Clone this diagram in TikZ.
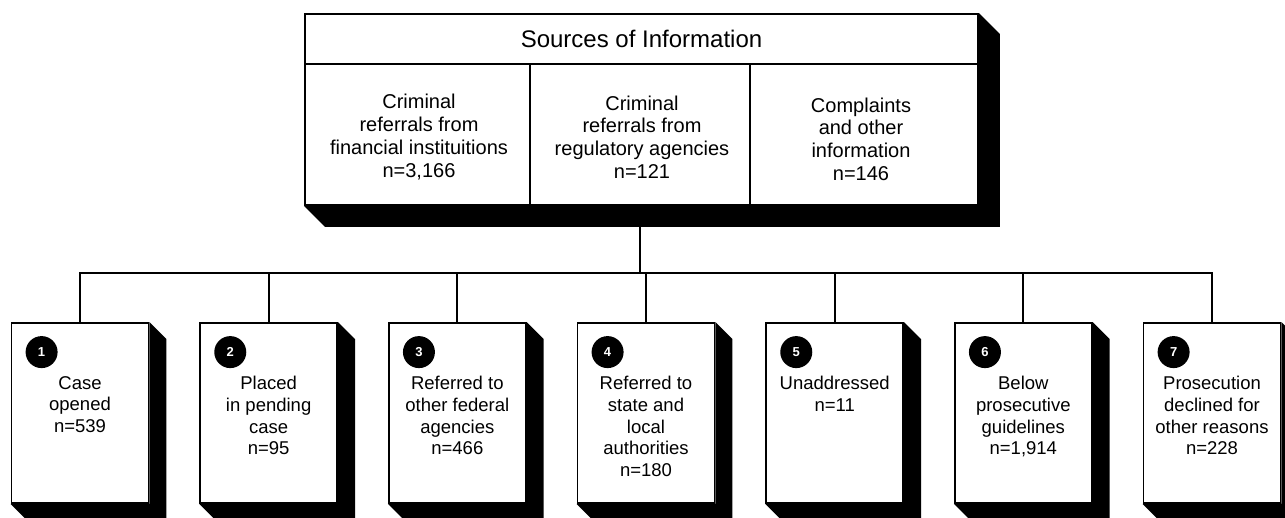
\documentclass[tikz,border=0pt]{standalone}
\usepackage{fontspec}
\setmainfont{Liberation Sans}
\begin{document}
\begin{tikzpicture}[x=1pt,y=-1pt,
  box/.style={draw=black, line width=1.8pt, fill=white, inner sep=0pt},
  lbl/.style={align=center, inner sep=0pt, font=\fontsize{18.5}{21.7}\selectfont},
  toplbl/.style={align=center, inner sep=0pt, font=\fontsize{20}{22.7}\selectfont},
  hdrlbl/.style={inner sep=0pt, font=\fontsize{24}{28}\selectfont},
  num/.style={circle, fill=black, text=white, minimum size=32pt, inner sep=0pt, font=\fontsize{13}{13}\selectfont\bfseries},
  conn/.style={line width=1.8pt},
  shad/.style={fill=black}]
\useasboundingbox (0,0) rectangle (1285,517);

% top box
\node[box, minimum width=673pt, minimum height=50pt] (hdr) at (641.5,39) {};
\node[box, minimum width=225pt, minimum height=141pt] (c1) at (417.5,134.5) {};
\node[box, minimum width=220pt, minimum height=141pt] (c2) at (640,134.5) {};
\node[box, minimum width=228pt, minimum height=141pt] (c3) at (864,134.5) {};
\fill[shad] (hdr.north east) -- ++(21,21) -- ([shift={(21,21)}]c3.south east)
  -- ([shift={(21,21)}]c1.south west) -- (c1.south west) -- (c3.south east) -- cycle;
\node[hdrlbl] (hdrt) at (hdr.center) {Sources of Information};
\node[toplbl] (c1t) at (419,137) {Criminal\\referrals from\\financial instituitions\\n=3,166};
\node[toplbl] (c2t) at (642,137) {Criminal\\referrals from\\regulatory agencies\\n=121};
\node[toplbl] (c3t) at (861,139) {Complaints\\and other\\information\\n=146};

% bottom boxes
\foreach \i/\t in {1/{Case\\opened\\n=539},
                   2/{Placed\\in pending\\case\\n=95},
                   3/{Referred to\\other federal\\agencies\\n=466},
                   4/{Referred to\\state and\\local\\authorities\\n=180},
                   5/{Unaddressed\\n=11},
                   6/{Below\\prosecutive\\guidelines\\n=1,914},
                   7/{Prosecution\\declined for\\other reasons\\n=228}}{
  \pgfmathsetmacro{\cx}{80+(\i-1)*188.667}
  \node[box, minimum width=137pt, minimum height=180pt] (b\i) at (\cx,413) {};
  \fill[shad] (b\i.north east) -- ++(17,17) -- ([shift={(17,17)}]b\i.south east)
    -- ([shift={(17,17)}]b\i.south west) -- (b\i.south west) -- (b\i.south east) -- cycle;
  \node[num] (n\i) at ([shift={(31,30)}]b\i.north west) {\i};
  \node[lbl, anchor=north] (t\i) at ([shift={(0,54)}]b\i.north) {\t};
}

% connectors
\coordinate (busL) at (b1.north |- 0,273);
\coordinate (busR) at (b7.north |- 0,273);
\draw[conn, line cap=rect] (busL) -- (busR);
\draw[conn] ([shift={(0,21)}]c2.south) -- (c2.south |- busL);
\foreach \i in {1,...,7}{
  \draw[conn] (b\i.north |- busL) -- (b\i.north);
}
\end{tikzpicture}
\end{document}
